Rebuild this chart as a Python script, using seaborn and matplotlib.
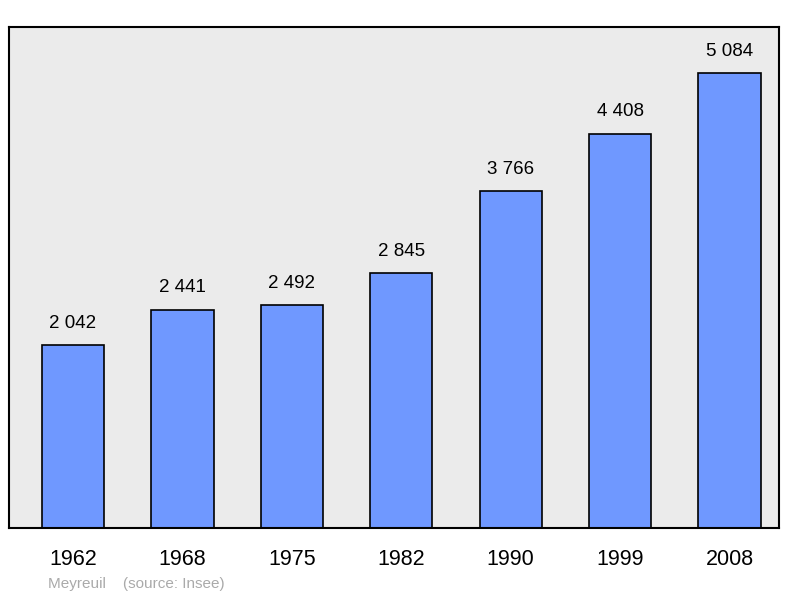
import matplotlib
matplotlib.use("Agg")
import matplotlib.pyplot as plt
import seaborn as sns
import pandas as pd

years = ["1962", "1968", "1975", "1982", "1990", "1999", "2008"]
population = [2042, 2441, 2492, 2845, 3766, 4408, 5084]
labels = ["2 042", "2 441", "2 492", "2 845", "3 766", "4 408", "5 084"]

sns.set_style("white")
plt.rcParams["font.family"] = ["Liberation Sans", "DejaVu Sans"]

df = pd.DataFrame({"year": years, "pop": population})

fig = plt.figure(figsize=(8, 5.98), dpi=100)
ax = fig.add_axes([9 / 800, 1 - 528 / 598, 770 / 800, 501 / 598])
ax.set_facecolor("#ebebeb")

sns.barplot(data=df, x="year", y="pop", color="#6f98ff", width=0.57,
            edgecolor="black", linewidth=1.2, saturation=1, ax=ax)

for i, (v, t) in enumerate(zip(population, labels)):
    ax.text(i, v + 150, t, ha="center", va="bottom", fontsize=13.5, color="black")

ax.set_xlim(-0.585, 6.452)
ax.set_ylim(0, 5598)
ax.set_yticks([])
ax.set_xlabel("")
ax.set_ylabel("")
ax.tick_params(axis="x", length=0, labelsize=15.5, pad=15, labelcolor="black")
for s in ax.spines.values():
    s.set_linewidth(1.5)
    s.set_color("black")

fig.text(48 / 800, 1 - 584 / 598, "Meyreuil    (source: Insee)",
         fontsize=11, color="#aaaaaa", va="center")

fig.savefig("out.png", dpi=100)
